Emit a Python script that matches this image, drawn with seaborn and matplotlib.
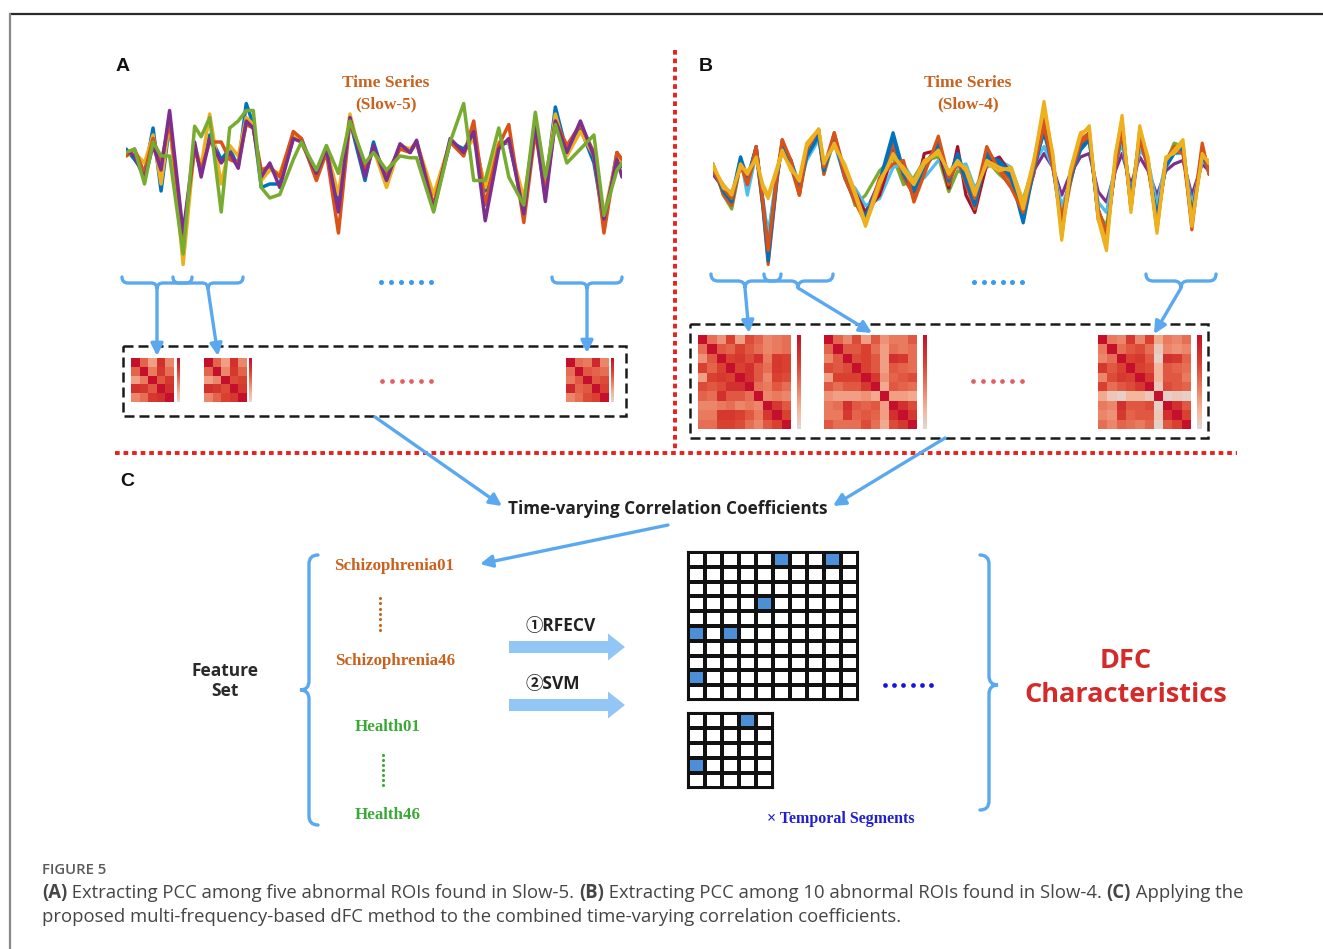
import numpy as np
import pandas as pd
import matplotlib
matplotlib.use("Agg")
import matplotlib.pyplot as plt
import seaborn as sns
from matplotlib.path import Path
from matplotlib.patches import PathPatch, Rectangle, FancyArrow
from matplotlib.colors import LinearSegmentedColormap, ListedColormap

# ---------------- data ----------------
# (A) Slow-5 time series of five abnormal ROIs
tA = [1.3, 3, 5, 6.7, 8.3, 10, 12.7, 15, 16.3, 18, 20.3, 22, 23.7, 25.3, 26.7, 28.3, 30, 32, 34.7, 36.3,
      39.3, 41.3, 43.7, 46, 49, 50.7, 53.3, 56, 58, 59.3, 62.7, 66, 68.7, 70.7, 73, 75.7, 77.7, 80.7, 83, 85,
      87, 89.3, 92, 94.7, 96.7, 99.3, 100.3]
a_blue = [1, -2, -6, 7, -11, 8, -25, 2, -6, 5, -2, 1, -4, 14, 8, -10, -9, -9, 4, 4, -7, 1, -14, 9, -8, 3, -9, 2, 0, 3,
          -16, 3, 1, 5, -11, 2, 3, -15, 9, -10, 13, 0, 7, -3, -20, 0, -4]
a_yellow = [-1, 0, -3, 5, -9, 9, -32, 2, -4, 11, -9, 2, -1, 10, 8, -8, -5, -6, 5, 3, -7, 1, -12, 11, -6, 1, -10, 2, 1, 3,
            -12, 3, 0, 4, -10, 3, 3, -13, 7, -9, 11, -1, 6, -1, -18, -1, -3]
a_red = [-1, 1, -6, 4, -3, 9, -24, 1, -5, 3, 3, -2, -3, 8, 7, -5, -4, -7, 6, 4, -8, 0, -23, 9, -5, 1, -6, 1, 0, 3,
         -15, 3, -1, 9, -15, 2, 8, -20, 6, -12, 9, 2, 8, 0, -23, 0, -2]
a_purple = [0.5, -1, -7.5, 2, -5, 12, -23, 3, -7, 4, -3, 0, -4.5, 9, 7, -7, -3, -10, 4, 3, -6, 1, -17, 10, -7, 2, -8, 2.5,
            0, 3.5, -16.5, 4, 0, 6, -19.5, 1, 4, -17.5, 8, -14, 9, 0, 9, -1, -19, -2, -7]
a_green = [0, 1, -9, 3, -1, -1, -29, 7.5, 4.5, 10, -17, 7, 9, 12, 12, -10, -13, -12, -2, 3, -5, 2, -6, 9, -3, 0, -5, -1,
           -1.5, -1.5, -17, 3, 14, -8, -8, 7, -7, -15, 11.5, -7, 8, -3, 1, 5, -18, -5, -3]
roisA = ["ROI1", "ROI2", "ROI3", "ROI4", "ROI5"]
seriesA = [a_blue, a_yellow, a_red, a_purple, a_green]
colorsA = ["#0072BD", "#EDB120", "#D95319", "#7E2F8E", "#77AC30"]

# (B) Slow-4 time series of ten abnormal ROIs
tB = [2.7, 4.7, 6.3, 8, 9.3, 11, 12.3, 13.3, 15, 16, 17.7, 19.3, 20.7, 23, 24, 26, 28, 30, 32, 34.7, 37.3, 39.3,
      41.3, 43.3, 46, 48, 49.7, 51.3, 53, 55.3, 57.7, 60, 62.3, 64.3, 66.3, 68, 69.7, 71.3, 73.3, 75, 76.7, 78.3,
      80, 81.3, 83, 84.7, 86.3, 88, 89.7, 91.3, 93, 94.7, 96.7, 98]
b1 = [1, -4, -7, 5, -1, 8, -8, -22, 0, 8, 4, -4, 5, 11, 2, 10, -1, -8, -12, -2, 12, 1, -4, 3, 8, -1, 6, -1, -8, 5,
      4, 0, -13, 2, 12, 2, -15, -1, 7, 10, -10, -17, 2, 12, -8, 10, 2, -12, 2, 6, 7, -12, 5, 2]
b2 = [3, -6, -9, 3, -3, 6, -10, -26, -2, 10, 2, -6, 7, 13, 0, 12, 1, -6, -14, -4, 9, -1, -6, 1, 10, -3, 4, -3, -10, 7,
      2, -2, -11, 0, 16, 4, -16, -3, 10, 12, -13, -18, 4, 15, -10, 12, 4, -16, 4, 8, 8, -16, 8, 0]
b3 = [2, -3, -6, 3, 0, 5, -4, -7, 1, 6, 2, -2, 8, 13, 3, 9, 2, -6, -15, -3, 6, 1, -3, 3, 7, 0, 4, 1, -6, 4,
      2, 1, -10, 3, 21, 5, -19, 0, 11, 14, -13, -22, 5, 17, -11, 14, 4, -17, 4, 7, 10, -15, 6, 3]
b4 = [0, -4, -8, 4, -2, 6, -8, -20, 0, 8, 3, -4, 5, 11, 1, 10, 0, -6, -11, -2, 8, 0, -4, 2, 7, -2, 4, -2, -8, 5,
      2, -1, -10, 1, 6, 2, -6, 0, 5, 6, -5, -8, 1, 6, -3, 5, 1, -6, 1, 3, 4, -6, 3, 1]
b5 = [3, -6, -10, 3, -1, 7, -9, -17, -1, 9, 3, -6, 5, 11, 0, 10, 1, -9, -6, 1, 5, -3, -1, 4, 5, -5, 1, 0, -6, 4,
      0, -3, -7, 2, 14, 3, -12, -1, 7, 10, -11, -15, 3, 12, -7, 11, 2, -13, 3, 9, 8, -12, 7, 2]
b6 = [1, -3, -6, 5, -6, 6, -7, -18, 1, 7, 4, -3, 4, 10, 2, 9, -1, -4, -9, -7, 2, 3, -2, -1, 4, 1, 2, 3, -4, 2,
      4, 2, -8, 3, 8, 2, -9, -3, 10, 9, -8, -11, 3, 9, -6, 7, 4, -9, 4, 6, 6, -9, 4, 2]
b7 = [2, -5, -7, 4, -2, 8, -9, -24, -1, 9, 3, -5, 6, 12, 1, 11, 0, -5, -11, -6, 6, 2, -7, 6, 7, -4, 8, -6, -11, 3,
      5, 0, -9, 0, 15, 4, -15, -2, 8, 12, -12, -18, 3, 14, -9, 12, 3, -14, 3, 7, 8, -13, 6, 1]
b8 = [2, -5, -8, 4, -2, 7, -9, -25, -1, 9, 3, -5, 6, 12, 1, 11, 0, -7, -13, -3, 11, 0, -5, 2, 9, -2, 5, -2, -9, 6,
      3, -1, -14, 1, 13, 3, -14, -2, 8, 11, -12, -19, 3, 14, -9, 12, 3, -14, 3, 6, 8, -13, 6, 1]
b9 = [1, -4, -7, 3, -3, 8, -8, -22, 0, 10, 4, -6, 7, 13, 2, 12, -1, -8, -14, -1, 3, 4, -8, 0, 11, -1, 3, 1, -7, 8,
      1, -4, -11, 2, 14, 2, -13, -1, 9, 11, -10, -17, 2, 13, -10, 10, 2, -15, 4, 7, 6, -14, 9, 0]
b10 = [3, -4, -5, 2, 1, 4, -3, -6, 2, 7, 1, -1, 9, 13, 4, 8, 3, -5, -14, -2, 5, 2, -2, 4, 6, 1, 3, 2, -5, 3,
       1, 2, -8, 4, 19, 6, -18, 1, 12, 13, -12, -20, 6, 16, -10, 13, 5, -16, 5, 6, 9, -14, 5, 4]
roisB = ["R1", "R2", "R3", "R4", "R5", "R6", "R7", "R8", "R9", "R10"]
seriesB = [b4, b5, b6, b7, b1, b2, b8, b9, b3, b10]
colorsB = ["#7E2F8E", "#77AC30", "#4DBEEE", "#A2142F", "#0072BD", "#D95319", "#0072BD", "#D95319",
           "#EDB120", "#EDB120"]

# PCC matrices (upper triangles, row-major, diagonal = 1)
pccA = [
    [0.55, 0.30, 0.80, 0.40, 0.45, 0.75, 0.50, 0.60, 0.75, 0.80],
    [0.55, 0.30, 0.80, 0.40, 0.40, 0.75, 0.55, 0.65, 0.70, 0.75],
    [0.50, 0.45, 0.85, 0.40, 0.60, 0.55, 0.50, 0.60, 0.65, 0.70],
]
pccB = [
    [0.50, 0.35, 0.70, 0.30, 0.65, 0.55, 0.40, 0.45, 0.50,
     0.60, 0.55, 0.70, 0.60, 0.50, 0.40, 0.45, 0.50,
     0.70, 0.75, 0.65, 0.80, 0.45, 0.75, 0.70,
     0.70, 0.80, 0.60, 0.50, 0.75, 0.70,
     0.80, 0.60, 0.40, 0.70, 0.65,
     0.50, 0.45, 0.60, 0.50,
     0.40, 0.45, 0.40,
     0.75, 0.60,
     0.70],
    [0.55, 0.40, 0.65, 0.30, 0.60, 0.35, 0.45, 0.45, 0.60,
     0.60, 0.60, 0.70, 0.50, 0.30, 0.50, 0.45, 0.50,
     0.65, 0.70, 0.60, 0.30, 0.80, 0.75, 0.50,
     0.70, 0.60, 0.30, 0.60, 0.55, 0.50,
     0.75, 0.35, 0.55, 0.60, 0.65,
     0.25, 0.60, 0.55, 0.50,
     0.30, 0.30, 0.25,
     0.80, 0.65,
     0.75],
    [0.45, 0.40, 0.75, 0.40, 0.70, 0.25, 0.45, 0.40, 0.50,
     0.50, 0.60, 0.65, 0.50, 0.10, 0.40, 0.35, 0.40,
     0.70, 0.75, 0.60, 0.05, 0.80, 0.75, 0.55,
     0.70, 0.65, 0.20, 0.60, 0.55, 0.50,
     0.75, 0.20, 0.60, 0.60, 0.45,
     0.10, 0.65, 0.60, 0.55,
     0.05, 0.10, 0.05,
     0.80, 0.60,
     0.70],
]

# selected dFC features in the two example grids
grid10_rows = [0, 0, 3, 5, 5, 8]
grid10_cols = [5, 8, 4, 0, 2, 0]
grid5_rows = [0, 3]
grid5_cols = [3, 0]

# ---------------- figure ----------------
sns.set_style("white")
plt.rcParams["font.family"] = ["Open Sans", "Noto Sans CJK SC", "DejaVu Sans"]

W, H = 1323, 949
fig = plt.figure(figsize=(W / 100, H / 100), dpi=100)
ax = fig.add_axes([0, 0, 1, 1])
ax.set_xlim(0, W)
ax.set_ylim(H, 0)
ax.axis("off")

BLUE = "#5aa9f0"
ORANGE = "#c8621e"
GREEN = "#3aa935"
SANS = ["Open Sans", "Noto Sans CJK SC", "DejaVu Sans"]
SERIF = ["Liberation Serif", "DejaVu Serif"]


def add_ax(x0, y0, x1, y1, z=3):
    a = fig.add_axes([x0 / W, 1 - y1 / H, (x1 - x0) / W, (y1 - y0) / H])
    a.set_zorder(z)
    return a


def hbrace(x0, x1, y, xt, d, color=BLUE, lw=2.4):
    h = d / 2.0
    r = abs(h)
    verts = [(x0, y), (x0, y + h), (x0 + r, y + h), (xt - r, y + h), (xt, y + h), (xt, y + d),
             (xt, y + h), (xt + r, y + h), (x1 - r, y + h), (x1, y + h), (x1, y)]
    codes = [Path.MOVETO, Path.CURVE3, Path.CURVE3, Path.LINETO, Path.CURVE3, Path.CURVE3,
             Path.CURVE3, Path.CURVE3, Path.LINETO, Path.CURVE3, Path.CURVE3]
    ax.add_patch(PathPatch(Path(verts, codes), fill=False, edgecolor=color, lw=lw, capstyle="round"))


def vbrace(y0, y1, x, yt, d, color=BLUE, lw=2.4):
    h = d / 2.0
    r = abs(h)
    verts = [(x, y0), (x + h, y0), (x + h, y0 + r), (x + h, yt - r), (x + h, yt), (x + d, yt),
             (x + h, yt), (x + h, yt + r), (x + h, y1 - r), (x + h, y1), (x, y1)]
    codes = [Path.MOVETO, Path.CURVE3, Path.CURVE3, Path.LINETO, Path.CURVE3, Path.CURVE3,
             Path.CURVE3, Path.CURVE3, Path.LINETO, Path.CURVE3, Path.CURVE3]
    ax.add_patch(PathPatch(Path(verts, codes), fill=False, edgecolor=color, lw=lw, capstyle="round"))


def arrow(x0, y0, x1, y1, color=BLUE, lw=2.4, ms=18):
    ax.annotate("", xy=(x1, y1), xytext=(x0, y0),
                arrowprops=dict(arrowstyle="-|>", color=color, lw=lw, mutation_scale=ms,
                                shrinkA=0, shrinkB=0), zorder=5)


def dots(x0, x1, y, color, n=6, ms=3.6):
    ax.plot(np.linspace(x0, x1, n), [y] * n, "o", color=color, ms=ms, mec="none")


# frame
ax.plot([10, W], [14, 14], color="#2a2a2a", lw=1.6)
ax.plot([10, 10], [14, H], color="#888888", lw=1.6)

# panel letters
for s, (x, y) in zip(["A", "B", "C"], [(123, 66), (706, 66), (127, 481)]):
    ax.text(x, y, s, ha="center", va="center", fontsize=14, fontweight="bold", color="#111",
            family=["Liberation Sans", "DejaVu Sans"])

# titles of time series
for cx, lab in [(386, "(Slow-5)"), (968, "(Slow-4)")]:
    ax.text(cx, 83, "Time Series", ha="center", va="center", fontsize=12.5, fontweight="bold",
            color=ORANGE, family=SERIF)
    ax.text(cx, 104, lab, ha="center", va="center", fontsize=12.5, fontweight="bold",
            color=ORANGE, family=SERIF)

# ---- time series (A)
dfA = pd.DataFrame({"t": np.tile(tA, len(roisA)), "v": np.concatenate(seriesA),
                    "roi": np.repeat(roisA, len(tA))})
axA = add_ax(126, 100, 622, 268)
sns.lineplot(data=dfA, x="t", y="v", hue="roi", hue_order=roisA,
             palette=dict(zip(roisA, colorsA)), lw=2.5, legend=False, ax=axA, sort=False)
axA.set_xlim(tA[0], tA[-1])
axA.set_ylim(-33, 15)
axA.axis("off")

# ---- time series (B)
dfB = pd.DataFrame({"t": np.tile(tB, len(roisB)), "v": np.concatenate(seriesB),
                    "roi": np.repeat(roisB, len(tB))})
axB = add_ax(713, 98, 1209, 268)
sns.lineplot(data=dfB, x="t", y="v", hue="roi", hue_order=roisB,
             palette=dict(zip(roisB, colorsB)), lw=2.3, legend=False, ax=axB, sort=False)
axB.set_xlim(tB[0], tB[-1])
axB.set_ylim(-27, 22)
axB.axis("off")

# ---- braces and arrows (A)
hbrace(122, 192, 277, 157, 12)
hbrace(173, 243, 277, 208, 12)
hbrace(552, 622, 277, 587, 12)
arrow(157, 289, 157, 356)
arrow(208, 289, 218, 356)
arrow(587, 289, 587, 353)
dots(381, 431, 282, "#3a9af0")

# ---- braces and arrows (B)
hbrace(711, 781, 274, 745, 14)
hbrace(764, 833, 274, 798, 14)
hbrace(1146, 1216, 274, 1181, 14)
arrow(745, 288, 749, 333)
arrow(798, 288, 872, 333)
arrow(1181, 288, 1154, 334)
dots(974, 1022, 282, "#3a9af0")

# ---- dashed boxes
ax.add_patch(Rectangle((123, 346), 503, 70, fill=False, ec="#1a1a1a", lw=1.8, ls=(0, (4, 2))))
ax.add_patch(Rectangle((690, 324), 518, 114, fill=False, ec="#1a1a1a", lw=1.8, ls=(0, (4, 2))))
dots(382, 431, 381, "#e06060", ms=3.4)
dots(973, 1022, 381, "#e06060", ms=3.4)

# ---- PCC heatmaps
pcc_cmap = LinearSegmentedColormap.from_list(
    "pcc", [(0.0, "#e0d8d5"), (0.2, "#f4b69c"), (0.45, "#ea7a5e"), (0.7, "#d9402f"), (1.0, "#c4102c")])


def sym(n, upper):
    M = np.eye(n)
    iu = np.triu_indices(n, 1)
    M[iu] = upper
    M[(iu[1], iu[0])] = upper
    return M


def pcc_map(M, box, cbox):
    ah = add_ax(*box)
    ac = add_ax(*cbox)
    sns.heatmap(M, ax=ah, cmap=pcc_cmap, vmin=0, vmax=1, cbar=True, cbar_ax=ac,
                xticklabels=False, yticklabels=False)
    ah.set_xticks([])
    ah.set_yticks([])
    ac.set_yticks([])
    ac.tick_params(length=0)
    ah.collections[0].colorbar.outline.set_visible(False)


pcc_map(sym(5, pccA[0]), (131, 358, 174, 402), (177, 358, 180, 402))
pcc_map(sym(5, pccA[1]), (204, 358, 247, 402), (249, 358, 252, 402))
pcc_map(sym(5, pccA[2]), (566, 358, 609, 402), (611, 358, 614, 402))
pcc_map(sym(10, pccB[0]), (698, 335, 791, 429), (797, 335, 801, 429))
pcc_map(sym(10, pccB[1]), (824, 335, 917, 429), (923, 335, 927, 429))
pcc_map(sym(10, pccB[2]), (1098, 335, 1191, 429), (1197, 335, 1202, 429))

# ---- red dotted separators
ax.plot([675, 675], [50, 452], color="#e8201e", lw=2.8, ls=(0, (1.2, 1.0)))
ax.plot([115, 1237], [453, 453], color="#e8201e", lw=2.8, ls=(0, (1.2, 1.0)))

# ---- to time-varying coefficients
arrow(375, 417, 502, 506)
arrow(945, 438, 833, 506)
ax.text(668, 509, "Time-varying Correlation Coefficients", ha="center", va="center",
        fontsize=12.3, fontweight="bold", color="#222", family=SANS)
arrow(668, 525, 480, 564)

# ---- feature set
vbrace(555, 825, 318, 690, -18)
ax.text(225, 681, "Feature\nSet", ha="center", va="center", fontsize=12.5, fontweight="bold",
        color="#2a2a2a", family=SANS, linespacing=1.15)
ax.text(394, 566, "Schizophrenia01", ha="center", va="center", fontsize=12.2, fontweight="bold",
        color=ORANGE, family=SERIF)
ax.text(395, 661, "Schizophrenia46", ha="center", va="center", fontsize=12.2, fontweight="bold",
        color=ORANGE, family=SERIF)
ax.text(388, 727, "Health01", ha="center", va="center", fontsize=12.2, fontweight="bold",
        color=GREEN, family=SERIF)
ax.text(388, 815, "Health46", ha="center", va="center", fontsize=12.2, fontweight="bold",
        color=GREEN, family=SERIF)
ax.plot([380] * 7, np.linspace(598, 630, 7), "o", color=ORANGE, ms=2.2, mec="none")
ax.plot([383] * 7, np.linspace(755, 785, 7), "o", color=GREEN, ms=2.2, mec="none")

# ---- RFECV / SVM thick arrows
for yc, lab, lx in [(647, "\u2460RFECV", 561), (705, "\u2461SVM", 553)]:
    ax.add_patch(FancyArrow(509, yc, 116, 0, width=12, head_width=27, head_length=17,
                            length_includes_head=True, color="#92c6f4", ec="none"))
    ax.text(lx, yc - 21, lab, ha="center", va="center", fontsize=12.5, fontweight="bold",
            color="#222", family=SANS)

# ---- dFC feature grids
sel_cmap = ListedColormap(["white", "#4d8fd6"])


def grid(n, rows, cols, box):
    G = np.zeros((n, n))
    G[rows, cols] = 1
    ag = add_ax(*box)
    sns.heatmap(G, ax=ag, cmap=sel_cmap, vmin=0, vmax=1, cbar=False, linewidths=1.5,
                linecolor="#111", xticklabels=False, yticklabels=False)
    ag.set_xticks([])
    ag.set_yticks([])
    for sp in ag.spines.values():
        sp.set_visible(True)
        sp.set_color("#111")
        sp.set_linewidth(1.5)


grid(10, grid10_rows, grid10_cols, (688, 552, 858, 700))
grid(5, grid5_rows, grid5_cols, (688, 713, 773, 788))
dots(885, 931, 685, "#1515e0", ms=3.4)
ax.text(841, 819, "\u00d7 Temporal Segments", ha="center", va="center", fontsize=11.5,
        fontweight="bold", color="#1f1fd0", family=SERIF)

# ---- DFC characteristics
vbrace(555, 810, 980, 685, 18)
ax.text(1126, 661, "DFC", ha="center", va="center", fontsize=19.5, fontweight="bold",
        color="#d42a2a", family=SANS)
ax.text(1126, 695, "Characteristics", ha="center", va="center", fontsize=19.5, fontweight="bold",
        color="#d42a2a", family=SANS)

# ---- caption
renderer = fig.canvas.get_renderer()


def width_of(s, size, bold):
    t = ax.text(0, 0, s + "|", fontsize=size, fontweight="bold" if bold else "normal",
                family=SANS)
    w1 = t.get_window_extent(renderer).width
    t.set_text("|")
    w2 = t.get_window_extent(renderer).width
    t.remove()
    return w1 - w2


def rich(x, y, parts, size, color):
    for txt, bold in parts:
        ax.text(x, y, txt, fontsize=size, fontweight="bold" if bold else "normal",
                color=color, va="center", ha="left", family=SANS)
        x += width_of(txt, size, bold)


line1 = [("(A)", True), (" Extracting PCC among five abnormal ROIs found in Slow-5. ", False),
         ("(B)", True), (" Extracting PCC among 10 abnormal ROIs found in Slow-4. ", False),
         ("(C)", True), (" Applying the", False)]
line2 = [("proposed multi-frequency-based dFC method to the combined time-varying correlation "
          "coefficients.", False)]
base = 12
wtot = sum(width_of(t, base, b) for t, b in line1)
cap_size = base * (1200.0 / wtot)
ax.text(42, 870, "FIGURE 5", fontsize=cap_size * 0.8, color="#5a5a5a", va="center", ha="left",
        family=SANS, fontweight="semibold")
rich(42, 893, line1, cap_size, "#454545")
rich(42, 917, line2, cap_size, "#454545")

fig.savefig("out.png", dpi=100)
